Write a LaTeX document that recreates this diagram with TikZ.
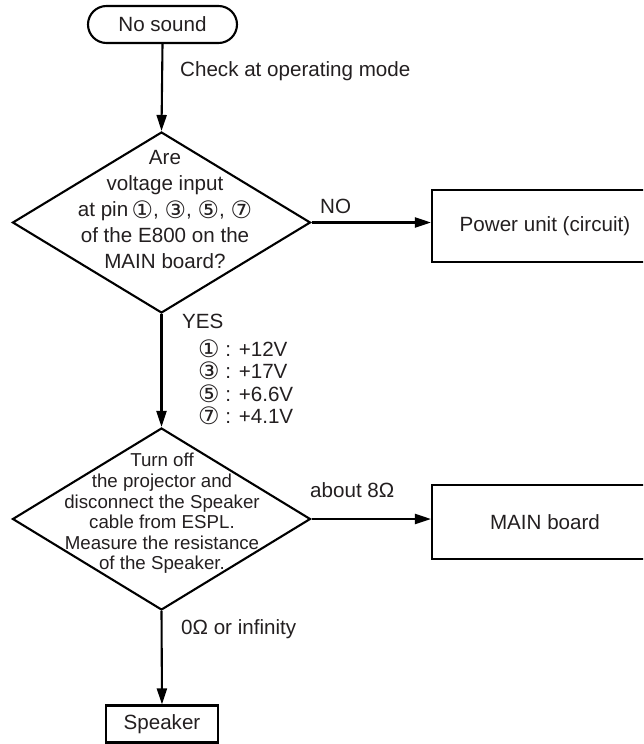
\documentclass[tikz,border=0pt]{standalone}
\usepackage{fontspec}
\setmainfont{Liberation Sans}
\newfontfamily\symfont{DejaVu Sans}
\usetikzlibrary{shapes.geometric,arrows.meta}
\definecolor{txt}{HTML}{231F20}
\newcommand{\cd}[1]{{\symfont\fontsize{24}{24}\selectfont\smash{\raisebox{-1.2pt}{#1}}}}
\begin{document}
\begin{tikzpicture}[x=1pt,y=-1pt,
  every node/.style={text=txt},
  ln/.style={line width=2.1pt,draw=black},
  arr/.style={ln,-{Triangle[length=16pt,width=10pt]}},
  boxnode/.style={draw=black,line width=2.1pt,rectangle,inner sep=0pt},
  dia/.style={draw=black,line width=2.1pt,diamond,inner sep=0pt,minimum width=298pt,minimum height=181pt},
  big/.style={font=\fontsize{20.6}{26}\selectfont},
  mid/.style={font=\fontsize{18.7}{20.6}\selectfont},
  lab/.style={font=\fontsize{20.6}{22.5}\selectfont,anchor=base west,inner sep=0pt}]
\useasboundingbox (0,0) rectangle (643,744);
\clip (0,0) rectangle (643,744);

% nodes
\node[boxnode,rounded corners=18.5pt,minimum width=149pt,minimum height=37pt,big] (start) at (162.5,24.5) {No sound};
\node[dia] (d1) at (161.5,222.5) {};
\node[big,align=center] (d1t) at (165,210) {Are\\voltage input\\at pin\,\cd{①}, \cd{③}, \cd{⑤}, \cd{⑦}\\of the E800 on the\\MAIN board?};
\node[boxnode,minimum width=226pt,minimum height=72pt,big] (power) at (545,226) {Power unit (circuit)};
\node[dia,minimum height=182pt] (d2) at (161.5,519) {};
\node[mid,align=center] (d2t) at (162,513.5) {Turn off\\the projector and\\disconnect the Speaker\\cable from ESPL.\\Measure the resistance\\of the Speaker.};
\node[boxnode,minimum width=226pt,minimum height=74pt,big] (mainb) at (545,522) {MAIN board};
\node[boxnode,minimum width=112pt,minimum height=37pt,big] (spk) at (162,724) {Speaker};

% connectors
\draw[arr] (start.south) -- (d1.north);
\draw[arr] (d1.east) -- (d1.east -| power.west);
\draw[arr] (d1.south) -- (d2.north);
\draw[arr] (d2.east) -- (d2.east -| mainb.west);
\draw[arr] (d2.south) -- (spk.north);

% labels
\node[lab] (lcheck) at (180,76) {Check at operating mode};
\node[lab] (lno) at (320,213) {NO};
\node[lab] (lyes) at (182,328) {YES};
\node[lab] (p1) at (198,356) {\cd{①} : +12V};
\node[lab] (p3) at (198,378.5) {\cd{③} : +17V};
\node[lab] (p5) at (198,401) {\cd{⑤} : +6.6V};
\node[lab] (p7) at (198,423.5) {\cd{⑦} : +4.1V};
\node[lab] (l8) at (310,497) {about 8Ω};
\node[lab] (l0) at (181,634) {0Ω or infinity};
\end{tikzpicture}
\end{document}
